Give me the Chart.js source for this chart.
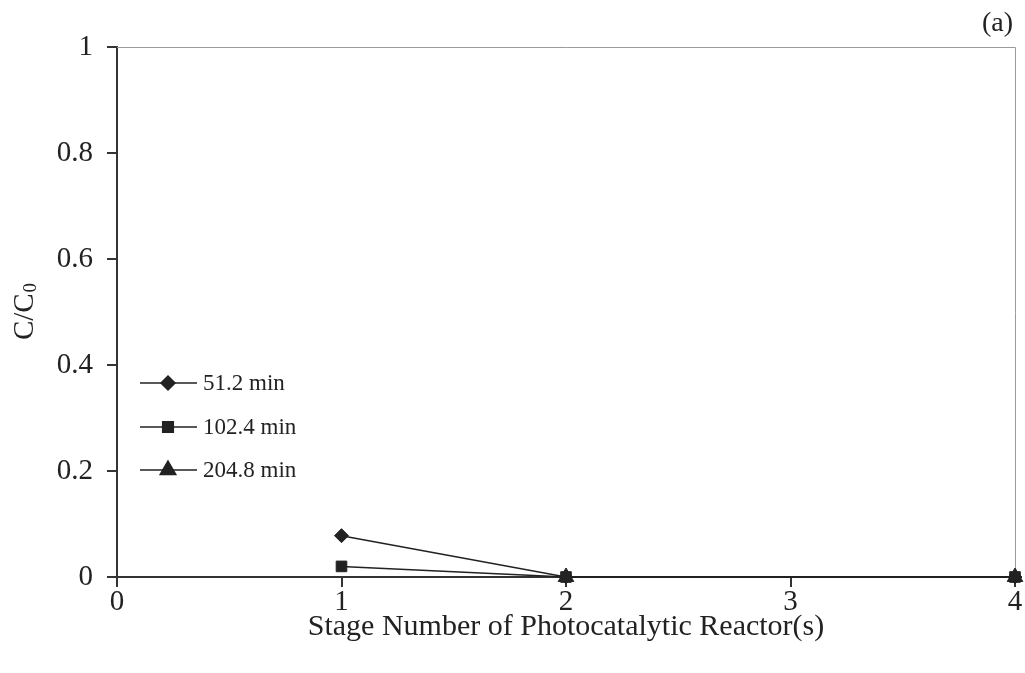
<!DOCTYPE html>
<html>
<head>
<meta charset="utf-8">
<title>C/C0 vs stage number</title>
<script src="https://cdn.jsdelivr.net/npm/chart.js@4.4.0/dist/chart.umd.min.js"></script>
<style>
  html, body { margin: 0; padding: 0; background: #fff; }
  canvas { display: block; }
</style>
</head>
<body>
<canvas id="stageChart" width="1025" height="673"></canvas>
<script>
// stage numbers and C/C0 read per residence time
const stages51 = [1, 2, 4];
const ratio51 = [0.078, 0, 0];
const stages102 = [1, 2, 4];
const ratio102 = [0.02, 0, 0];
const stages204 = [2, 4];
const ratio204 = [0, 0];

const seriesLabels = ['51.2 min', '102.4 min', '204.8 min'];
const xTickLabels = ['0', '1', '2', '3', '4'];
const yTickLabels = ['0', '0.2', '0.4', '0.6', '0.8', '1'];

const SERIF = '"Liberation Serif", "Times New Roman", serif';
const INK = '#222';

function toPoints(xs, ys) {
    return xs.map((x, i) => ({ x: x, y: ys[i] }));
}

function makeSeries(label, xs, ys, style, radius, order) {
    return {
        label: label,
        data: toPoints(xs, ys),
        borderColor: INK,
        backgroundColor: INK,
        borderWidth: 1.5,
        pointStyle: style,
        pointRadius: radius,
        pointBorderWidth: 1,
        pointBackgroundColor: INK,
        pointBorderColor: INK,
        tension: 0,
        clip: false,
        order: order
    };
}

// frame lines on top/right, panel tag, y title with subscript, legend inside plot
const decorations = {
    id: 'decorations',
    beforeDraw(chart) {
        const ctx = chart.ctx;
        ctx.save();
        ctx.fillStyle = '#fff';
        ctx.fillRect(0, 0, chart.width, chart.height);
        ctx.restore();
    },
    beforeDatasetsDraw(chart) {
        const ctx = chart.ctx;
        const area = chart.chartArea;
        ctx.save();
        ctx.strokeStyle = '#9a9a9a';
        ctx.lineWidth = 1;
        ctx.beginPath();
        ctx.moveTo(area.left, area.top + 0.5);
        ctx.lineTo(area.right + 0.5, area.top + 0.5);
        ctx.lineTo(area.right + 0.5, area.bottom);
        ctx.stroke();
        ctx.restore();
    },
    afterDraw(chart) {
        const ctx = chart.ctx;
        ctx.save();

        ctx.fillStyle = INK;
        ctx.font = '28px ' + SERIF;
        ctx.textAlign = 'right';
        ctx.textBaseline = 'alphabetic';
        ctx.fillText('(a)', 1013, 31);

        // y axis title: C/C with a subscript 0
        ctx.translate(33, 312);
        ctx.rotate(-Math.PI / 2);
        ctx.font = '29px ' + SERIF;
        const main = 'C/C';
        const w1 = ctx.measureText(main).width;
        ctx.font = '19px ' + SERIF;
        const w2 = ctx.measureText('0').width;
        const start = -(w1 + w2) / 2;
        ctx.textAlign = 'left';
        ctx.font = '29px ' + SERIF;
        ctx.fillText(main, start, 0);
        ctx.font = '19px ' + SERIF;
        ctx.fillText('0', start + w1 + 1, 3);
        ctx.setTransform(1, 0, 0, 1, 0, 0);

        // legend
        const rowY = [383, 427, 470];
        chart.data.datasets.forEach((ds, i) => {
            const y = rowY[i];
            ctx.strokeStyle = INK;
            ctx.lineWidth = 1.5;
            ctx.beginPath();
            ctx.moveTo(140, y);
            ctx.lineTo(197, y);
            ctx.stroke();
            ctx.fillStyle = INK;
            Chart.helpers.drawPoint(ctx, {
                pointStyle: ds.pointStyle,
                radius: ds.pointRadius,
                borderWidth: 1
            }, 168, y);
            ctx.fill();
            ctx.font = '23px ' + SERIF;
            ctx.textAlign = 'left';
            ctx.textBaseline = 'middle';
            ctx.fillText(ds.label, 203, y + 1);
        });

        ctx.restore();
    }
};

const axisGrid = {
    drawOnChartArea: false,
    drawTicks: true,
    tickLength: 10,
    tickWidth: 2,
    tickColor: '#333',
    color: '#333',
    lineWidth: 2
};

const chart = new Chart(document.getElementById('stageChart'), {
    type: 'line',
    data: {
        datasets: [
            makeSeries(seriesLabels[0], stages51, ratio51, 'rectRot', 7, 3),
            makeSeries(seriesLabels[1], stages102, ratio102, 'rect', 7.5, 2),
            makeSeries(seriesLabels[2], stages204, ratio204, 'triangle', 9, 1)
        ]
    },
    options: {
        responsive: false,
        devicePixelRatio: 1,
        animation: false,
        layout: { padding: { top: 47, right: 10, bottom: 0, left: 0 } },
        plugins: {
            legend: { display: false },
            tooltip: { enabled: false }
        },
        scales: {
            x: {
                type: 'linear',
                min: 0,
                max: 4,
                afterFit: (scale) => { scale.height = 96; },
                afterBuildTicks: (scale) => {
                    scale.ticks = xTickLabels.map((t) => ({ value: Number(t) }));
                },
                ticks: {
                    stepSize: 1,
                    padding: -2,
                    color: INK,
                    font: { family: SERIF, size: 29 },
                    maxRotation: 0,
                    callback: (v, i) => xTickLabels[i]
                },
                grid: axisGrid,
                border: { color: '#333', width: 2 },
                title: {
                    display: true,
                    text: 'Stage Number of Photocatalytic Reactor(s)',
                    color: INK,
                    font: { family: SERIF, size: 30 },
                    padding: { top: 0, bottom: 28 }
                }
            },
            y: {
                type: 'linear',
                min: 0,
                max: 1,
                afterFit: (scale) => { scale.width = 117; },
                afterBuildTicks: (scale) => {
                    scale.ticks = yTickLabels.map((t) => ({ value: Number(t) }));
                },
                ticks: {
                    stepSize: 0.2,
                    padding: 14,
                    color: INK,
                    font: { family: SERIF, size: 29 },
                    callback: (v, i) => yTickLabels[i]
                },
                grid: axisGrid,
                border: { color: '#333', width: 2 }
            }
        }
    },
    plugins: [decorations]
});
</script>
</body>
</html>
